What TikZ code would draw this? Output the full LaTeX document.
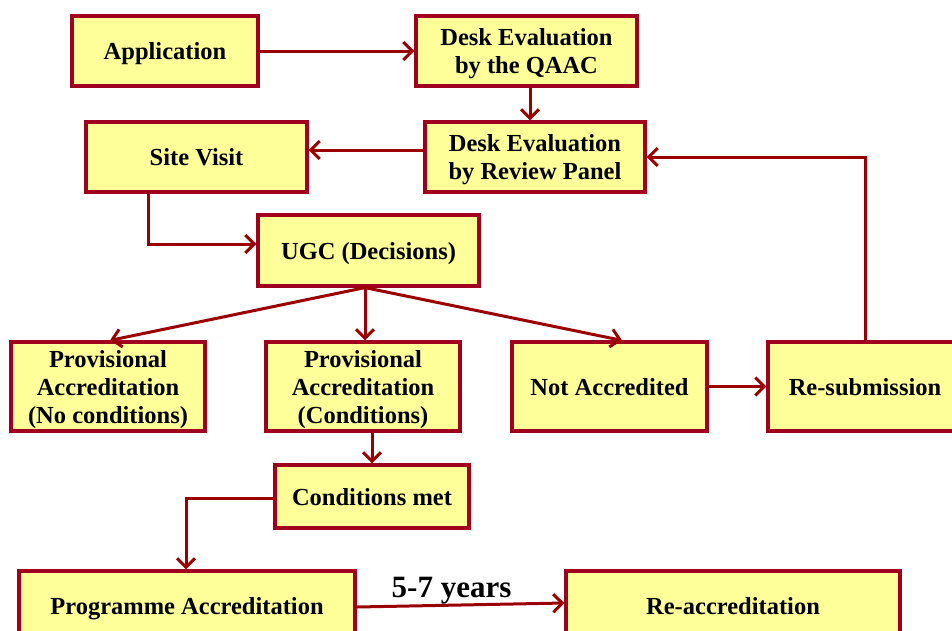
\documentclass[tikz,border=0pt]{standalone}
\usepackage{fontspec}
\setmainfont{Liberation Serif}
\usetikzlibrary{arrows.meta,calc}
\definecolor{boxfill}{HTML}{FFFF99}
\definecolor{boxline}{HTML}{A0001E}
\definecolor{arrline}{HTML}{9B0000}
\tikzset{
  flowbox/.style={draw=boxline, fill=boxfill, line width=3.2pt, inner sep=0pt,
    align=center, text depth=0pt, font=\fontsize{24.5}{28}\selectfont\bfseries},
  flowarr/.style={draw=arrline, line width=3pt,
    -{Straight Barb[length=9pt,width=18pt]}},
}
\begin{document}
\begin{tikzpicture}[x=1pt,y=1pt]
\clip (0,0) rectangle (952,-630);
\fill[white] (0,0) rectangle (952,-630);
% nodes
\node[flowbox, minimum width=186, minimum height=70] (app) at (165,-51) {Application};
\node[flowbox, minimum width=221, minimum height=70] (qaac) at (526.5,-51) {Desk Evaluation\\by the QAAC};
\node[flowbox, minimum width=220, minimum height=70] (rev) at (535,-157) {Desk Evaluation\\by Review Panel};
\node[flowbox, minimum width=221, minimum height=70] (site) at (196.5,-157) {Site Visit};
\node[flowbox, minimum width=221, minimum height=71] (ugc) at (368.5,-250.5) {UGC (Decisions)};
\node[flowbox, minimum width=194, minimum height=89] (pnc) at (108,-386.5) {Provisional\\Accreditation\\(No conditions)};
\node[flowbox, minimum width=194, minimum height=89] (pc) at (363,-386.5) {Provisional\\Accreditation\\(Conditions)};
\node[flowbox, minimum width=195, minimum height=89] (na) at (609.5,-386.5) {Not Accredited};
\node[flowbox, minimum width=194, minimum height=89] (resub) at (865,-386.5) {Re-submission};
\node[flowbox, minimum width=194, minimum height=63] (cm) at (372,-496.5) {Conditions met};
\node[flowbox, minimum width=336, minimum height=70] (pa) at (187,-606) {Programme Accreditation};
\node[flowbox, minimum width=334, minimum height=70] (reacc) at (733,-606) {Re-accreditation};
% connectors
\draw[flowarr] (app.east) -- (qaac.west);
\draw[flowarr] ([xshift=3.5pt]qaac.south) -- ([xshift=3.5pt]qaac.south |- rev.north);
\draw[flowarr] ([yshift=7pt]rev.west) -- ([yshift=7pt]rev.west -| site.east);
\draw[flowarr] ([xshift=-48.5pt]site.south) |- ([yshift=6.5pt]ugc.west);
\coordinate (ug) at ([xshift=-3.5pt]ugc.south);
\draw[flowarr] (ug) -- ([xshift=2pt]pnc.north);
\draw[flowarr] (ug) -- (ug |- pc.north);
\draw[flowarr] (ug) -- ([xshift=12.5pt]na.north);
\draw[flowarr] (na.east) -- (resub.west);
\draw[flowarr] (resub.north) |- (rev.east);
\draw[flowarr] (cm.north |- pc.south) -- (cm.north);
\draw[flowarr] ([yshift=-1.5pt]cm.west) -| ([xshift=-1pt]pa.north);
\draw[flowarr] ([yshift=-1pt]pa.east) -- node[midway, above=-1pt, xshift=-9pt, inner sep=0pt, font=\fontsize{31}{36}\selectfont\bfseries] (yrs) {5-7 years} ([yshift=3pt]reacc.west);
\end{tikzpicture}
\end{document}
